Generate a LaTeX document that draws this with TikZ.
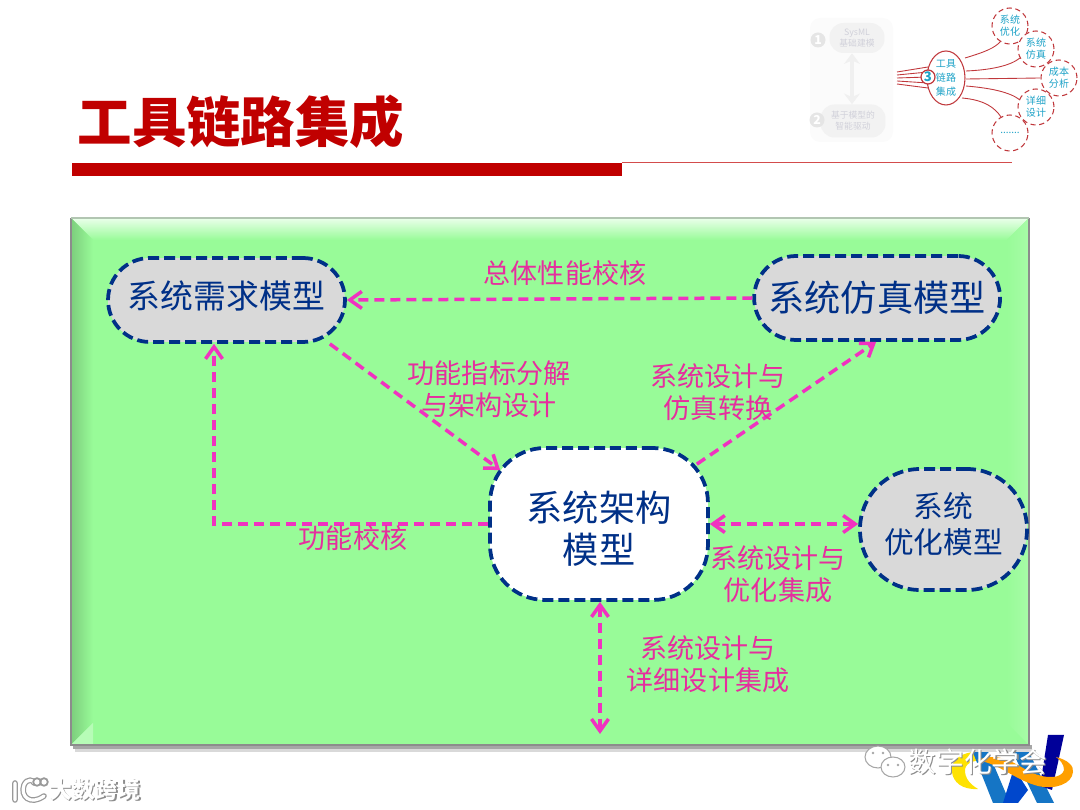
\documentclass[tikz,border=0pt]{standalone}
\usepackage{fontspec}
\setmainfont{Noto Sans CJK SC}
\usetikzlibrary{positioning,arrows.meta}
\definecolor{panelgreen}{HTML}{98FB98}
\definecolor{barred}{HTML}{C00000}
\definecolor{linkpink}{HTML}{F032C0}
\definecolor{labelpink}{HTML}{E62E9E}
\definecolor{modelblue}{HTML}{003087}
\definecolor{modelgray}{HTML}{D9D9D9}
\definecolor{thumbred}{HTML}{C0383C}
\definecolor{thumbblue}{HTML}{1FA3C8}
\newcommand{\embossed}[1]{{\color{black!45}\rlap{\kern0.7pt\raisebox{-0.7pt}{#1}}}{\color{white}#1}}
\newcommand{\shifted}[2]{\raisebox{#1}[0pt][0pt]{\begin{tabular}{@{}c@{}}#2\end{tabular}}}
\begin{document}
\begin{tikzpicture}[x=0.02cm, y=-0.02cm, node distance=4mm,
  modelbox/.style={draw=modelblue, line width=0.075cm, dash pattern=on 0.22cm off 0.1cm, fill=modelgray, text=modelblue, align=center, inner sep=0pt},
  flowarrow/.style={draw=linkpink, line width=0.07cm, dash pattern=on 0.2cm off 0.12cm},
  tipboth/.style={{Straight Barb[length=2.4mm,width=3.4mm]}-{Straight Barb[length=2.4mm,width=3.4mm]}},
  tipend/.style={-{Straight Barb[length=2.4mm,width=3.4mm]}},
  flowlabel/.style={text=labelpink, align=center, inner sep=0pt, font=\fontsize{15.4pt}{18.2pt}\selectfont},
  thumbball/.style={draw=thumbred, densely dashed, line width=0.6pt, fill=white, circle, minimum size=0.72cm, inner sep=0pt, align=center, text=thumbblue, font=\fontsize{5.7pt}{7pt}\selectfont},
  thumblink/.style={draw=thumbred, line width=0.5pt},
  thumbpill/.style={fill=black!5, rounded corners=0.28cm, text=blue!20!black!18, align=center, inner sep=0pt, font=\fontsize{5pt}{6.4pt}\selectfont},
  thumbnum/.style={circle, fill=black!10, text=white, inner sep=0pt, minimum size=0.3cm, font=\fontsize{7pt}{8pt}\bfseries\selectfont}]
\useasboundingbox (0,0) rectangle (1080,810);
% logo behind the panel
\fill[yellow!85!orange] (952,772) .. controls (950,758) and (965,750) .. (985,752) -- (985,760) .. controls (972,760) and (964,764) .. (965,772) .. controls (966,782) and (975,787) .. (978,789) .. controls (962,790) and (953,782) .. (952,772) -- cycle;
\fill[cyan!55!blue] (968,740) -- (983,740) -- (1010,803) -- (993,803) -- cycle;
\fill[blue!65!cyan!80!black] (1003,803) -- (1014,768) -- (1028,790) -- (1018,803) -- cycle;
\fill[cyan!55!blue] (1007,740) -- (1023,740) -- (1054,803) -- (1037,803) -- cycle;
\fill[blue!60!black] (1048,735) -- (1064,735) -- (1052,790) -- (1040,786) -- cycle;
\fill[orange!75!yellow] (977,760) .. controls (1000,752) and (1012,762) .. (1030,772) .. controls (1048,780) and (1062,778) .. (1064,770) .. controls (1064,764) and (1060,760) .. (1056,757) .. controls (1068,760) and (1074,766) .. (1073,772) .. controls (1072,784) and (1055,790) .. (1038,786) .. controls (1015,780) and (1000,764) .. (977,760) -- cycle;
% panel
\fill[black!35] (73,745) rectangle (1032,749);
\fill[black!15] (75,749) rectangle (1034,752);
\fill[panelgreen] (71,218) rectangle (1029,745);
\shade[top color=green!8!white, bottom color=panelgreen] (71,218) -- (1029,218) -- (1007,240) -- (93,240) -- cycle;
\shade[left color=panelgreen!82!black, right color=panelgreen] (71,218) -- (93,240) -- (93,723) -- (71,745) -- cycle;
\shade[left color=panelgreen, right color=panelgreen!85!white] (1029,218) -- (1007,240) -- (1007,723) -- (1029,745) -- cycle;
\fill[panelgreen!70!white] (71,745) -- (93,723) -- (93,745) -- cycle;
\draw[black!45, line width=0.6pt] (71,218) -- (71,745) -- (1029,745) -- (1029,218);
\draw[green!25!black!30, line width=0.6pt] (71,218) -- (1029,218);
% title
\node[inner sep=0pt, text=barred, font=\fontsize{31pt}{34pt}\bfseries\selectfont] (title) at (241,122) {工具链路集成};
\fill[barred] (72,163) rectangle (622,176);
\draw[barred!70, line width=0.5pt] (622,162.5) -- (1012,162.5);
% thumbnail
\fill[black!1.5, rounded corners=0.2cm] (810,18) rectangle (893,142);
\node[thumbpill, minimum width=1.1cm, minimum height=0.6cm] (tsys) at (857,38) {SysML\\基础建模};
\node[thumbpill, minimum width=1.3cm, minimum height=0.66cm] (tdrv) at (853,121) {基于模型的\\智能驱动};
\node[thumbnum] (tone) at (818,40) {1};
\node[thumbnum] (ttwo) at (817,120) {2};
\draw[black!6, line width=2pt, {Stealth[length=6pt,width=9pt]}-{Stealth[length=6pt,width=9pt]}] (tsys.south -| 852,0) -- (tdrv.north -| 852,0);
\node[thumbball] (topt) at (1010,26) {系统\\优化};
\node[thumbball] (tsim) at (1036,49) {系统\\仿真};
\node[thumbball] (tcost) at (1059,78) {成本\\分析};
\node[thumbball] (tdet) at (1036,107) {详细\\设计};
\node[thumbball] (tmore) at (1010,133) {.......};
\draw[thumbred, fill=white, line width=0.6pt] (946,78) ellipse (19 and 27);
\node[inner sep=0pt, text=thumbblue, align=center, font=\fontsize{5.7pt}{7.8pt}\selectfont] (tchain) at (946,78) {工具\\链路\\集成};
\draw[thumblink] (965,58) .. controls (985,52) and (995,48) .. (1001,41);
\draw[thumblink] (966,71) .. controls (990,70) and (1010,66) .. (1020,58);
\draw[thumblink] (966,79) -- (tcost.west);
\draw[thumblink] (966,86) .. controls (990,88) and (1010,92) .. (1020,100);
\draw[thumblink] (962,98) .. controls (985,100) and (995,108) .. (1001,117);
\foreach \ya/\yb in {72/67, 75/72, 78/77, 81/83, 84/88}
  \draw[thumblink] (897,\ya) -- (928,\yb);
\node[circle, draw=thumbred, fill=white, line width=0.7pt, minimum size=0.28cm, inner sep=0pt, text=thumbblue, font=\fontsize{7.5pt}{8pt}\bfseries\selectfont] (tthree) at (928,77) {3};
% model boxes
\node[modelbox, rounded corners=0.84cm, minimum width=4.74cm, minimum height=1.68cm, font=\fontsize{18.7pt}{21pt}\selectfont] (req) at (226.5,300) {\shifted{-4.5pt}{系统需求模型}};
\node[modelbox, rounded corners=0.84cm, minimum width=4.92cm, minimum height=1.68cm, right=8.11cm of req, yshift=0.04cm, font=\fontsize{20.6pt}{23pt}\selectfont] (sim) {系统仿真模型};
\node[modelbox, fill=white, rounded corners=1.1cm, minimum width=4.36cm, minimum height=3.04cm, font=\fontsize{20.6pt}{22.3pt}\selectfont] (arch) at (599,524) {\shifted{-10.4pt}{系统架构\\模型}};
\node[modelbox, rounded corners=1.2cm, minimum width=3.34cm, minimum height=2.42cm, font=\fontsize{16.9pt}{20.4pt}\selectfont] (opt) at (943.5,529.5) {\shifted{-3.7pt}{系统\\优化模型}};
\coordinate (out) at (600,734);
% connectors
\draw[flowarrow, tipend] (sim.west) -- (req.east);
\draw[flowarrow, tipend] ([xshift=-0.34cm]req.south east) -- ([xshift=0.24cm,yshift=-0.48cm]arch.north west);
\draw[flowarrow, tipend] ([xshift=-0.26cm,yshift=-0.36cm]arch.north east) -- ([xshift=-0.02cm]sim.south);
\draw[flowarrow, tipend] (arch.west) -| ([xshift=-0.25cm]req.south);
\draw[flowarrow, tipboth] (arch.east) -- (arch.east -| opt.west);
\draw[flowarrow, tipboth] (arch.south -| out) -- (out);
% labels
\node[flowlabel] (lperf) at (565,273) {总体性能校核};
\node[flowlabel] (ldecomp) at (489,389) {功能指标分解\\与架构设计};
\node[flowlabel] (lsimc) at (718,392) {系统设计与\\仿真转换};
\node[flowlabel] (lfunc) at (353,538) {功能校核};
\node[flowlabel] (lopti) at (778,574) {系统设计与\\优化集成};
\node[flowlabel] (ldetail) at (708,664) {系统设计与\\详细设计集成};
% watermarks
\draw[black!40, line width=3.2pt, line cap=round] (15,783) -- (15,800) (44,796) .. controls (30,806) and (20,796) .. (24,785) .. controls (27,778) and (34,780) .. (34,783);
\draw[white, line width=1.8pt, line cap=round] (15,783) -- (15,800) (44,796) .. controls (30,806) and (20,796) .. (24,785) .. controls (27,778) and (34,780) .. (34,783);
\draw[black!40, fill=white, line width=1pt] (37,782) circle (3.8) (44,782) circle (3.8);
\node[inner sep=0pt, font=\fontsize{13pt}{14pt}\bfseries\selectfont] (wmark) at (95,790) {\embossed{大数跨境}};
\draw[black!35, fill=white, line width=0.6pt] (878,757) ellipse (13 and 11);
\draw[black!35, fill=white, line width=0.6pt] (893,767) ellipse (12 and 10);
\foreach \ex/\ey in {873/753, 883/753, 888/765, 898/765}
  \fill[black!35] (\ex,\ey) circle (1.3);
\node[inner sep=0pt, font=\fontsize{15.8pt}{17pt}\selectfont] (wechat) at (978,762) {\embossed{数字化学会}};
\end{tikzpicture}
\end{document}
